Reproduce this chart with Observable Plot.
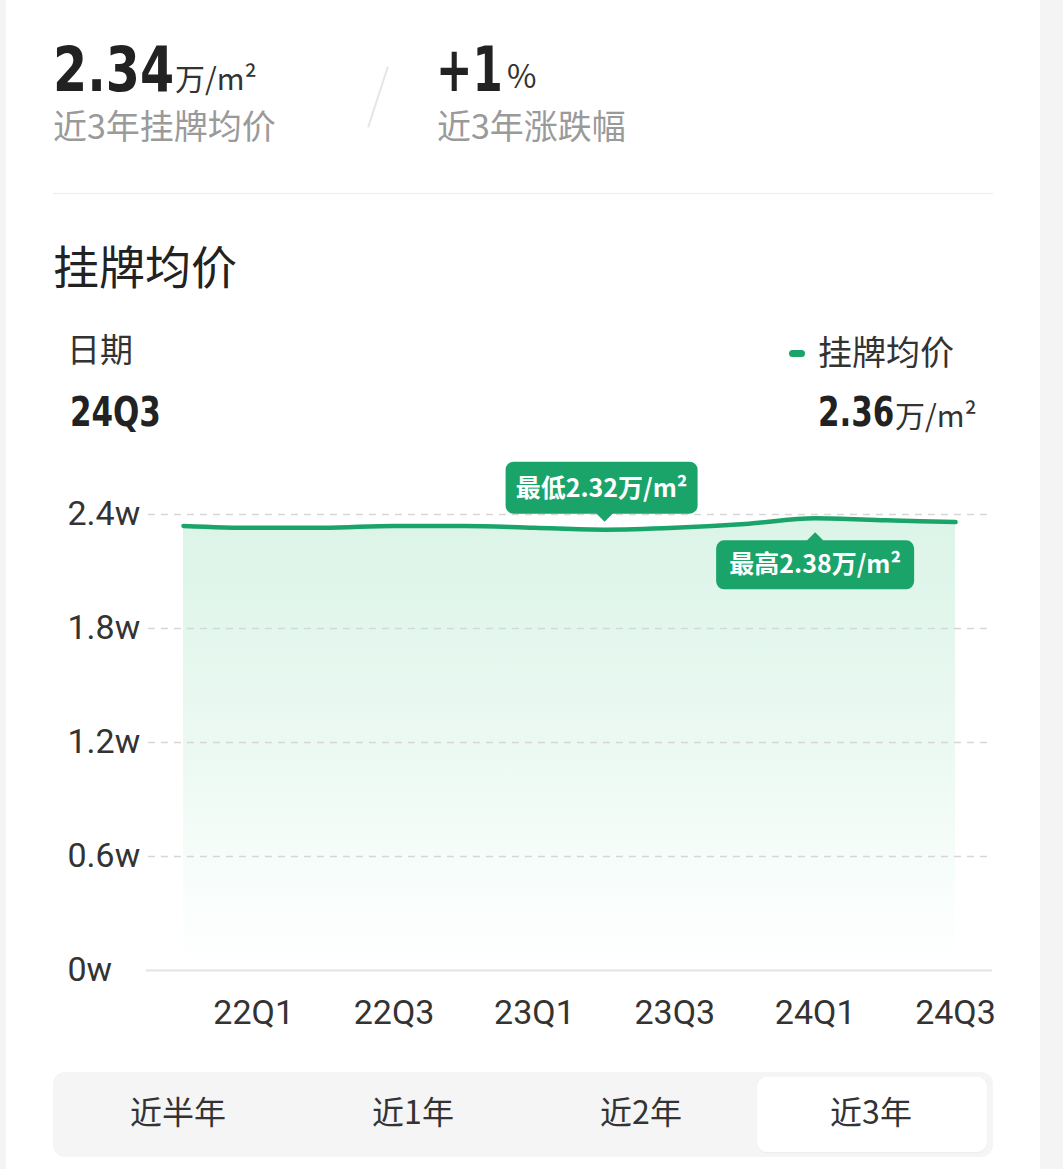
<!DOCTYPE html>
<html><head><meta charset="utf-8">
<script src="https://cdn.jsdelivr.net/npm/d3@7"></script>
<script src="https://cdn.jsdelivr.net/npm/@observablehq/plot@0.6"></script>
<style>
html,body{margin:0;padding:0;}
body{width:1063px;height:1169px;position:relative;background:#fff;font-family:"Noto Sans CJK SC","Noto Sans",sans-serif;overflow:hidden;}
.strip-l{position:absolute;left:0;top:0;width:6px;height:1169px;background:#f4f4f4;}
.strip-r{position:absolute;left:1040px;top:0;width:23px;height:1169px;background:#f4f4f4;}
.abs{position:absolute;white-space:nowrap;line-height:1;}
.num{font-family:"Liberation Sans Narrow","DejaVu Sans Condensed",Roboto,sans-serif;font-weight:700;color:#222;transform-origin:0 0;}
.unit{font-family:"Noto Sans CJK SC",sans-serif;color:#333;font-weight:400;}
.gray{color:#9a9a9a;}
#chart{position:absolute;left:0;top:440px;}
.tabs{position:absolute;left:53px;top:1072px;width:940px;height:85px;background:#f5f5f5;border-radius:12px;}
.tabsel{position:absolute;left:757px;top:1077px;width:230px;height:75px;background:#fff;border-radius:10px;box-shadow:0 1px 2px rgba(0,0,0,0.04);}
.tab{position:absolute;top:1094px;font-size:32px;color:#333;transform:translateX(-50%);}
</style>
</head><body>
<div class="strip-l"></div><div class="strip-r"></div>
<div id="header"></div>
<div id="chart"></div>
<script>
// ---- data ----
const quarters = ["21Q4","22Q1","22Q2","22Q3","22Q4","23Q1","23Q2","23Q3","23Q4","24Q1","24Q2","24Q3"];
const prices = [2.34,2.33,2.33,2.34,2.34,2.33,2.32,2.33,2.35,2.38,2.37,2.36];
const yTicks = [0,0.6,1.2,1.8,2.4];
const xTickLabels = ["22Q1","22Q3","23Q1","23Q3","24Q1","24Q3"];
const tabs = ["近半年","近1年","近2年","近3年"];
const seriesName = "挂牌均价";
const unit = "万/m²";

const green = "#1ba46a";
const data = quarters.map((q,i)=>({i, q, v: prices[i]}));
const avg = d3.mean(prices);
const change = (prices[prices.length-1]-prices[0])/prices[0]*100;
const minV = d3.min(prices), maxV = d3.max(prices);
const minPt = data[prices.indexOf(minV)], maxPt = data[prices.indexOf(maxV)];
const last = data[data.length-1];

// ---- header html ----
const h = document.getElementById("header");
h.innerHTML = `
<div class="abs num" style="left:53px;top:39px;font-size:62px;transform:scaleX(0.88);">${avg.toFixed(2)}</div>
<div class="abs unit" style="left:175px;top:62px;font-size:30px;">${unit}</div>
<div class="abs gray" style="left:53px;top:108px;font-size:34px;">近3年${seriesName}</div>
<div style="position:absolute;left:377px;top:65px;width:2px;height:64px;background:#e6e6e6;transform:rotate(18deg);"></div>
<div class="abs num" style="left:436px;top:39px;font-size:62px;transform:scaleX(0.78);">${change>=0?"+":""}${Math.round(change)}</div>
<div class="abs unit" style="left:507px;top:58px;font-size:32px;">%</div>
<div class="abs gray" style="left:437px;top:108px;font-size:34px;">近3年涨跌幅</div>
<div style="position:absolute;left:53px;top:193px;width:940px;height:1px;background:#ececec;"></div>
<div class="abs" style="left:53px;top:241px;font-size:46px;color:#222;">${seriesName}</div>
<div class="abs" style="left:67px;top:332px;font-size:33px;color:#333;">日期</div>
<div class="abs num" style="left:70px;top:392px;font-size:40px;transform:scaleX(0.86);">${last.q}</div>
<div style="position:absolute;left:789px;top:350px;width:16px;height:7px;border-radius:4px;background:${green};"></div>
<div class="abs" style="left:818px;top:334px;font-size:34px;color:#333;">${seriesName}</div>
<div class="abs num" style="left:818px;top:392px;font-size:40px;transform:scaleX(0.86);">${last.v.toFixed(2)}</div>
<div class="abs unit" style="left:895px;top:399px;font-size:30px;">${unit}</div>
<div class="tabs"></div><div class="tabsel"></div>
${tabs.map((t,k)=>`<div class="abs tab" style="left:${[178,413,641,871][k]}px;">${t}</div>`).join("")}
`;

// ---- callout symbols ----
function callout(x0,x1,y0,y1,tipY,rad){
  return {draw(ctx){
    const down = tipY > y1;
    ctx.moveTo(x0+rad, y0);
    if(!down){ ctx.lineTo(-8, y0); ctx.lineTo(0, tipY); ctx.lineTo(8, y0); }
    ctx.lineTo(x1-rad, y0);
    ctx.arcTo(x1, y0, x1, y0+rad, rad);
    ctx.lineTo(x1, y1-rad);
    ctx.arcTo(x1, y1, x1-rad, y1, rad);
    if(down){ ctx.lineTo(8, y1); ctx.lineTo(0, tipY); ctx.lineTo(-8, y1); }
    ctx.lineTo(x0+rad, y1);
    ctx.arcTo(x0, y1, x0, y1-rad, rad);
    ctx.lineTo(x0, y0+rad);
    ctx.arcTo(x0, y0, x0+rad, y0, rad);
    ctx.closePath();
  }};
}
const boxAbove = callout(-99, 93, -68, -16, -8, 8);
const boxBelow = callout(-99, 99, 22, 71, 14, 8);

const xTickIdx = xTickLabels.map(l => quarters.indexOf(l));

const plot = Plot.plot({
  width: 1040, height: 620,
  marginLeft: 183, marginRight: 85, marginTop: 74, marginBottom: 90,
  x: {type: "linear", domain: [0, quarters.length-1]},
  y: {domain: [0, 2.4]},
  style: {background: "transparent", fontFamily: "Roboto, 'Liberation Sans', sans-serif", overflow: "visible"},
  marks: [
    Plot.areaY(data, {x: "i", y: "v", curve: "monotone-x", fill: "url(#areaGrad)"}),
    Plot.ruleY(yTicks.filter(d => d > 0), {x1: -0.5, x2: quarters.length - 0.5, stroke: "#d6d6d6", strokeDasharray: "7,6", strokeWidth: 1.3}),
    Plot.ruleY([0], {x1: -0.53, x2: quarters.length - 0.47, stroke: "#e3e3e3", strokeWidth: 2}),
    Plot.lineY(data, {x: "i", y: "v", curve: "monotone-x", stroke: green, strokeWidth: 4.5}),
    Plot.axisX({ticks: xTickIdx, tickFormat: i => quarters[i], tickSize: 0, tickPadding: 29, fontSize: 34, color: "#333", label: null}),
    Plot.axisY({ticks: yTicks, tickFormat: d => d + "w", tickSize: 0, tickPadding: 0, textAnchor: "start", dx: -116, fontSize: 34, color: "#333", label: null}),
    Plot.dot([minPt], {x: "i", y: "v", symbol: boxAbove, fill: green, stroke: null}),
    Plot.dot([maxPt], {x: "i", y: "v", symbol: boxBelow, fill: green, stroke: null}),
    Plot.text([minPt], {x: "i", y: "v", text: d => `最低${d.v.toFixed(2)}${unit}`, dy: -41, dx: -3, fill: "#fff", fontSize: 25, fontWeight: 700, fontFamily: "Noto Sans CJK SC"}),
    Plot.text([maxPt], {x: "i", y: "v", text: d => `最高${d.v.toFixed(2)}${unit}`, dy: 47, fill: "#fff", fontSize: 25, fontWeight: 700, fontFamily: "Noto Sans CJK SC"})
  ]
});
const ns = "http://www.w3.org/2000/svg";
const defs = document.createElementNS(ns, "defs");
defs.innerHTML = '<linearGradient id="areaGrad" x1="0" y1="0" x2="0" y2="1"><stop offset="0" stop-color="#dcf4e8"/><stop offset="0.5" stop-color="#ebf9f2"/><stop offset="0.85" stop-color="#fafefc"/><stop offset="1" stop-color="#ffffff"/></linearGradient>';
plot.insertBefore(defs, plot.firstChild);
document.getElementById("chart").appendChild(plot);
</script>
</body></html>
